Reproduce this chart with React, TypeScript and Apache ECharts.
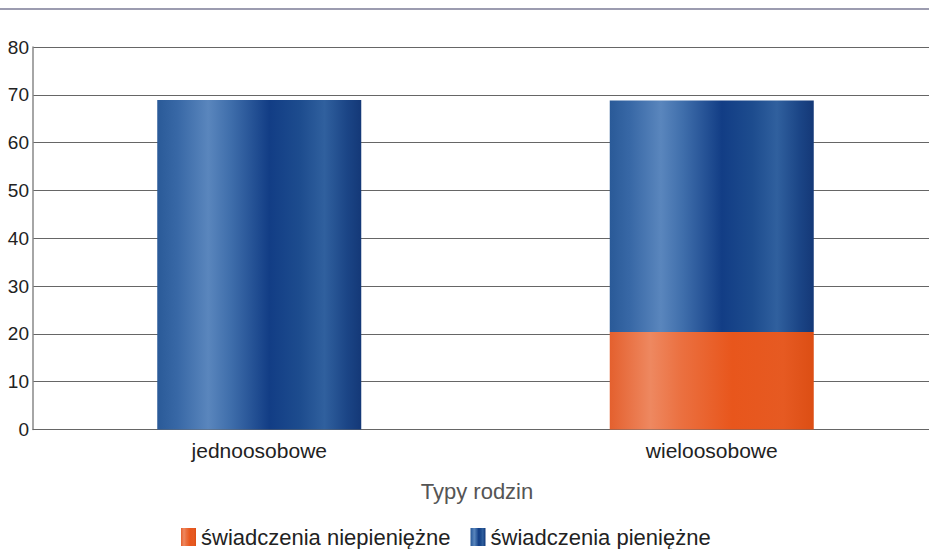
import React, { useEffect, useRef } from "react";
import * as echarts from "echarts";

const categories = ["jednoosobowe", "wieloosobowe"];
const nonCash = [0, 20.4];
const cash = [68.9, 48.4];
const seriesNames = ["świadczenia niepieniężne", "świadczenia pieniężne"];
const axisName = "Typy rodzin";

export default function App() {
  const ref = useRef<HTMLDivElement>(null);
  useEffect(() => {
    if (!ref.current) return;
    const chart = echarts.init(ref.current, null, { renderer: "svg" });
    const blue = new echarts.graphic.LinearGradient(0, 0, 1, 0, [
      { offset: 0, color: "#2a5a98" },
      { offset: 0.1, color: "#3868a6" },
      { offset: 0.25, color: "#5a86bd" },
      { offset: 0.36, color: "#3f6eab" },
      { offset: 0.55, color: "#123d85" },
      { offset: 0.7, color: "#1d4c8e" },
      { offset: 0.82, color: "#30609e" },
      { offset: 0.93, color: "#1b4586" },
      { offset: 1, color: "#143877" },
    ]);
    const orange = new echarts.graphic.LinearGradient(0, 0, 1, 0, [
      { offset: 0, color: "#e4602e" },
      { offset: 0.2, color: "#ee8860" },
      { offset: 0.35, color: "#eb7040" },
      { offset: 0.6, color: "#e8561c" },
      { offset: 0.85, color: "#e65a22" },
      { offset: 1, color: "#dc4e14" },
    ]);
    chart.setOption({
      animation: false,
      textStyle: { fontFamily: "Liberation Sans, Arial, sans-serif" },
      graphic: [
        {
          type: "line",
          shape: { x1: 0, y1: 9, x2: 960, y2: 9 },
          style: { stroke: "#9c9cb0", lineWidth: 2 },
        },
      ],
      grid: { left: 33, top: 47, bottom: 119.5, right: 22 },
      legend: {
        top: 521,
        left: 176,
        icon: "rect",
        itemWidth: 15,
        itemHeight: 18,
        itemGap: 20,
        textStyle: { fontSize: 22, color: "#222", padding: [0, 0, 0, 0] },
        data: seriesNames,
      },
      xAxis: {
        type: "category",
        data: categories,
        name: axisName,
        nameLocation: "middle",
        nameGap: 51,
        nameTextStyle: { fontSize: 22, color: "#555", padding: [0, 0, 0, -17] },
        axisLine: { lineStyle: { color: "#666", width: 1 } },
        axisTick: { show: false },
        axisLabel: { fontSize: 21, color: "#222", margin: 10 },
      },
      yAxis: {
        type: "value",
        min: 0,
        max: 80,
        interval: 10,
        axisLine: { show: true, lineStyle: { color: "#888", width: 1.5 } },
        axisTick: { show: false },
        axisLabel: { fontSize: 19, color: "#222", margin: 4 },
        splitLine: { lineStyle: { color: "#666", width: 1.2 } },
      },
      series: [
        {
          name: seriesNames[0],
          type: "bar",
          stack: "a",
          barWidth: 204,
          data: nonCash,
          itemStyle: { color: orange },
        },
        {
          name: seriesNames[1],
          type: "bar",
          stack: "a",
          barWidth: 204,
          data: cash,
          itemStyle: { color: blue },
        },
      ],
    });
    return () => chart.dispose();
  }, []);
  return (
    <div
      style={{
        position: "fixed",
        left: 0,
        top: 0,
        width: 929,
        height: 549,
        overflow: "hidden",
        background: "#fff",
      }}
    >
      <div ref={ref} style={{ width: 960, height: 549 }} />
    </div>
  );
}
